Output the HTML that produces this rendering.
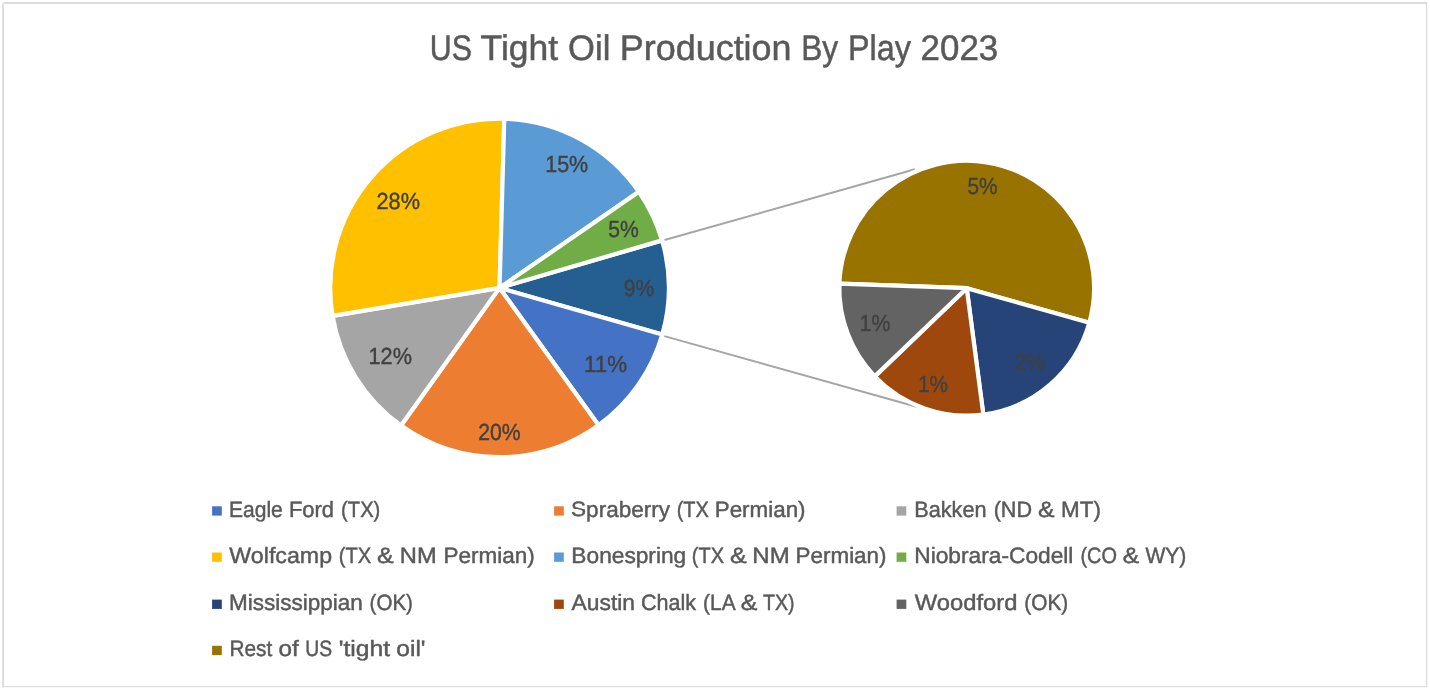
<!DOCTYPE html>
<html lang="en"><head><meta charset="utf-8"><title>US Tight Oil Production By Play 2023</title>
<style>html,body{margin:0;padding:0;background:#fff;}body{width:1430px;height:691px;overflow:hidden;font-family:"Liberation Sans",sans-serif;}svg{display:block}</style>
</head><body>
<svg width="1430" height="691" viewBox="0 0 1430 691" font-family="Liberation Sans, sans-serif" style="text-rendering:geometricPrecision">
<rect x="0" y="0" width="1430" height="691" fill="#fff"/>
<path d="M3.1,687.4V4.6Q3.1,3.05 4.6,3.05H1427.2" fill="none" stroke="#dcdcdc" stroke-width="1.9"/>
<path d="M1426.55,3.9V686.6H2.2" fill="none" stroke="#dedede" stroke-width="1.4" stroke-linejoin="miter"/>
<g stroke="#a5a5a5" stroke-width="2.0" fill="none">
<line x1="664.5" y1="240.0" x2="915.0" y2="169.3"/>
<line x1="664.3" y1="336.1" x2="916.5" y2="406.7"/>
</g>
<g stroke="#fff" stroke-width="4.2" stroke-linejoin="round">
<path d="M499.55,287.90L662.05,240.38A169.30,169.30 0 0 1 662.29,334.57Z" fill="#255E91"/>
<path d="M499.55,287.90L662.29,334.57A169.30,169.30 0 0 1 598.58,425.21Z" fill="#4472C4"/>
<path d="M499.55,287.90L598.58,425.21A169.30,169.30 0 0 1 401.00,425.56Z" fill="#ED7D31"/>
<path d="M499.55,287.90L401.00,425.56A169.30,169.30 0 0 1 332.57,315.84Z" fill="#A5A5A5"/>
<path d="M499.55,287.90L332.57,315.84A169.30,169.30 0 0 1 504.28,118.67Z" fill="#FFC000"/>
<path d="M499.55,287.90L504.28,118.67A169.30,169.30 0 0 1 638.91,191.76Z" fill="#5B9BD5"/>
<path d="M499.55,287.90L638.91,191.76A169.30,169.30 0 0 1 662.05,240.38Z" fill="#70AD47"/>
<path d="M966.70,288.20L839.39,283.53A127.40,127.40 0 1 1 1089.32,322.78Z" fill="#997300"/>
<path d="M966.70,288.20L1089.32,322.78A127.40,127.40 0 0 1 983.33,414.51Z" fill="#264478"/>
<path d="M966.70,288.20L983.33,414.51A127.40,127.40 0 0 1 874.75,376.38Z" fill="#9E480E"/>
<path d="M966.70,288.20L874.75,376.38A127.40,127.40 0 0 1 839.39,283.53Z" fill="#636363"/>
</g>
<text y="59.9" transform="rotate(0.01 429.74 59.9)" font-size="35.6" fill="#595959" stroke="#595959" stroke-width="0.5"><tspan x="429.74" textLength="42.21" lengthAdjust="spacingAndGlyphs">US</tspan> <tspan x="480.61" textLength="77.53" lengthAdjust="spacingAndGlyphs">Tight</tspan> <tspan x="568.12" textLength="42.25" lengthAdjust="spacingAndGlyphs">Oil</tspan> <tspan x="619.87" textLength="171.68" lengthAdjust="spacingAndGlyphs">Production</tspan> <tspan x="801.17" textLength="36.94" lengthAdjust="spacingAndGlyphs">By</tspan> <tspan x="847.93" textLength="62.90" lengthAdjust="spacingAndGlyphs">Play</tspan> <tspan x="920.60" textLength="77.60" lengthAdjust="spacingAndGlyphs">2023</tspan></text>
<text y="516.5" transform="rotate(0.01 228.93 516.5)" font-size="22.2" fill="#595959" stroke="#595959" stroke-width="0.45"><tspan x="228.93" textLength="53.84" lengthAdjust="spacingAndGlyphs">Eagle</tspan> <tspan x="288.94" textLength="45.15" lengthAdjust="spacingAndGlyphs">Ford</tspan> <tspan x="341.10" textLength="39.23" lengthAdjust="spacingAndGlyphs">(TX)</tspan></text>
<text y="516.5" transform="rotate(0.01 571.08 516.5)" font-size="22.2" fill="#595959" stroke="#595959" stroke-width="0.45"><tspan x="571.08" textLength="98.99" lengthAdjust="spacingAndGlyphs">Spraberry</tspan> <tspan x="676.73" textLength="32.20" lengthAdjust="spacingAndGlyphs">(TX</tspan> <tspan x="714.73" textLength="90.87" lengthAdjust="spacingAndGlyphs">Permian)</tspan></text>
<text y="516.5" transform="rotate(0.01 914.26 516.5)" font-size="22.2" fill="#595959" stroke="#595959" stroke-width="0.45"><tspan x="914.26" textLength="72.30" lengthAdjust="spacingAndGlyphs">Bakken</tspan> <tspan x="993.68" textLength="38.36" lengthAdjust="spacingAndGlyphs">(ND</tspan> <tspan x="1037.99" textLength="16.53" lengthAdjust="spacingAndGlyphs">&amp;</tspan> <tspan x="1061.00" textLength="39.88" lengthAdjust="spacingAndGlyphs">MT)</tspan></text>
<text y="562.7" transform="rotate(0.01 229.38 562.7)" font-size="22.2" fill="#595959" stroke="#595959" stroke-width="0.45"><tspan x="229.38" textLength="102.65" lengthAdjust="spacingAndGlyphs">Wolfcamp</tspan> <tspan x="338.74" textLength="32.42" lengthAdjust="spacingAndGlyphs">(TX</tspan> <tspan x="376.90" textLength="16.67" lengthAdjust="spacingAndGlyphs">&amp;</tspan> <tspan x="399.81" textLength="36.83" lengthAdjust="spacingAndGlyphs">NM</tspan> <tspan x="443.44" textLength="91.31" lengthAdjust="spacingAndGlyphs">Permian)</tspan></text>
<text y="562.7" transform="rotate(0.01 571.36 562.7)" font-size="22.2" fill="#595959" stroke="#595959" stroke-width="0.45"><tspan x="571.36" textLength="114.85" lengthAdjust="spacingAndGlyphs">Bonespring</tspan> <tspan x="691.83" textLength="32.14" lengthAdjust="spacingAndGlyphs">(TX</tspan> <tspan x="730.06" textLength="16.72" lengthAdjust="spacingAndGlyphs">&amp;</tspan> <tspan x="752.33" textLength="37.42" lengthAdjust="spacingAndGlyphs">NM</tspan> <tspan x="795.62" textLength="90.91" lengthAdjust="spacingAndGlyphs">Permian)</tspan></text>
<text y="562.7" transform="rotate(0.01 914.24 562.7)" font-size="22.2" fill="#595959" stroke="#595959" stroke-width="0.45"><tspan x="914.24" textLength="159.20" lengthAdjust="spacingAndGlyphs">Niobrara-Codell</tspan> <tspan x="1080.40" textLength="36.47" lengthAdjust="spacingAndGlyphs">(CO</tspan> <tspan x="1122.81" textLength="16.54" lengthAdjust="spacingAndGlyphs">&amp;</tspan> <tspan x="1145.41" textLength="40.94" lengthAdjust="spacingAndGlyphs">WY)</tspan></text>
<text y="609.8" transform="rotate(0.01 229.09 609.8)" font-size="22.2" fill="#595959" stroke="#595959" stroke-width="0.45"><tspan x="229.09" textLength="133.76" lengthAdjust="spacingAndGlyphs">Mississippian</tspan> <tspan x="369.62" textLength="43.34" lengthAdjust="spacingAndGlyphs">(OK)</tspan></text>
<text y="609.8" transform="rotate(0.01 571.60 609.8)" font-size="22.2" fill="#595959" stroke="#595959" stroke-width="0.45"><tspan x="571.60" textLength="63.44" lengthAdjust="spacingAndGlyphs">Austin</tspan> <tspan x="640.91" textLength="55.13" lengthAdjust="spacingAndGlyphs">Chalk</tspan> <tspan x="703.11" textLength="31.36" lengthAdjust="spacingAndGlyphs">(LA</tspan> <tspan x="740.80" textLength="16.67" lengthAdjust="spacingAndGlyphs">&amp;</tspan> <tspan x="763.09" textLength="31.58" lengthAdjust="spacingAndGlyphs">TX)</tspan></text>
<text y="609.8" transform="rotate(0.01 914.81 609.8)" font-size="22.2" fill="#595959" stroke="#595959" stroke-width="0.45"><tspan x="914.81" textLength="102.59" lengthAdjust="spacingAndGlyphs">Woodford</tspan> <tspan x="1024.37" textLength="43.85" lengthAdjust="spacingAndGlyphs">(OK)</tspan></text>
<text y="656.0" transform="rotate(0.01 229.53 656.0)" font-size="22.2" fill="#595959" stroke="#595959" stroke-width="0.45"><tspan x="229.53" textLength="42.77" lengthAdjust="spacingAndGlyphs">Rest</tspan> <tspan x="278.54" textLength="20.24" lengthAdjust="spacingAndGlyphs">of</tspan> <tspan x="305.28" textLength="26.78" lengthAdjust="spacingAndGlyphs">US</tspan> <tspan x="338.75" textLength="51.30" lengthAdjust="spacingAndGlyphs">'tight</tspan> <tspan x="396.31" textLength="29.25" lengthAdjust="spacingAndGlyphs">oil'</tspan></text>
<text y="208.7" transform="rotate(0.01 376.56 208.7)" font-size="23.2" fill="#404040" stroke="#404040" stroke-width="0.4"><tspan x="376.56" textLength="43.45" lengthAdjust="spacingAndGlyphs">28%</tspan></text>
<text y="171.9" transform="rotate(0.01 545.17 171.9)" font-size="23.2" fill="#404040" stroke="#404040" stroke-width="0.4"><tspan x="545.17" textLength="43.11" lengthAdjust="spacingAndGlyphs">15%</tspan></text>
<text y="237.4" transform="rotate(0.01 608.18 237.4)" font-size="23.2" fill="#404040" stroke="#404040" stroke-width="0.4"><tspan x="608.18" textLength="30.52" lengthAdjust="spacingAndGlyphs">5%</tspan></text>
<text y="296.4" transform="rotate(0.01 623.84 296.4)" font-size="23.2" fill="#404040" stroke="#404040" stroke-width="0.4"><tspan x="623.84" textLength="30.48" lengthAdjust="spacingAndGlyphs">9%</tspan></text>
<text y="371.7" transform="rotate(0.01 583.93 371.7)" font-size="23.2" fill="#404040" stroke="#404040" stroke-width="0.4"><tspan x="583.93" textLength="43.09" lengthAdjust="spacingAndGlyphs">11%</tspan></text>
<text y="439.9" transform="rotate(0.01 478.26 439.9)" font-size="23.2" fill="#404040" stroke="#404040" stroke-width="0.4"><tspan x="478.26" textLength="42.37" lengthAdjust="spacingAndGlyphs">20%</tspan></text>
<text y="364.2" transform="rotate(0.01 368.56 364.2)" font-size="23.2" fill="#404040" stroke="#404040" stroke-width="0.4"><tspan x="368.56" textLength="43.40" lengthAdjust="spacingAndGlyphs">12%</tspan></text>
<text y="194.4" transform="rotate(0.01 967.43 194.4)" font-size="23.2" fill="#404040" stroke="#404040" stroke-width="0.4"><tspan x="967.43" textLength="30.07" lengthAdjust="spacingAndGlyphs">5%</tspan></text>
<text y="331.4" transform="rotate(0.01 859.59 331.4)" font-size="23.2" fill="#404040" stroke="#404040" stroke-width="0.4"><tspan x="859.59" textLength="30.74" lengthAdjust="spacingAndGlyphs">1%</tspan></text>
<text y="392.2" transform="rotate(0.01 918.02 392.2)" font-size="23.2" fill="#404040" stroke="#404040" stroke-width="0.4"><tspan x="918.02" textLength="30.06" lengthAdjust="spacingAndGlyphs">1%</tspan></text>
<text y="369.5" transform="rotate(0.01 1014.38 369.5)" font-size="23.2" fill="#404040" stroke="#404040" stroke-width="0.4"><tspan x="1014.38" textLength="30.19" lengthAdjust="spacingAndGlyphs">2%</tspan></text>
<rect x="212.1" y="506.3" width="9.7" height="9.3" fill="#4472C4"/>
<rect x="554.1" y="506.3" width="9.7" height="9.3" fill="#ED7D31"/>
<rect x="896.6" y="506.3" width="9.7" height="9.3" fill="#A5A5A5"/>
<rect x="212.1" y="552.5" width="9.7" height="9.3" fill="#FFC000"/>
<rect x="554.1" y="552.5" width="9.7" height="9.3" fill="#5B9BD5"/>
<rect x="896.6" y="552.5" width="9.7" height="9.3" fill="#70AD47"/>
<rect x="212.1" y="599.6" width="9.7" height="9.3" fill="#264478"/>
<rect x="554.1" y="599.6" width="9.7" height="9.3" fill="#9E480E"/>
<rect x="896.6" y="599.6" width="9.7" height="9.3" fill="#636363"/>
<rect x="212.1" y="645.8" width="9.7" height="9.3" fill="#997300"/>
</svg>
</body></html>
